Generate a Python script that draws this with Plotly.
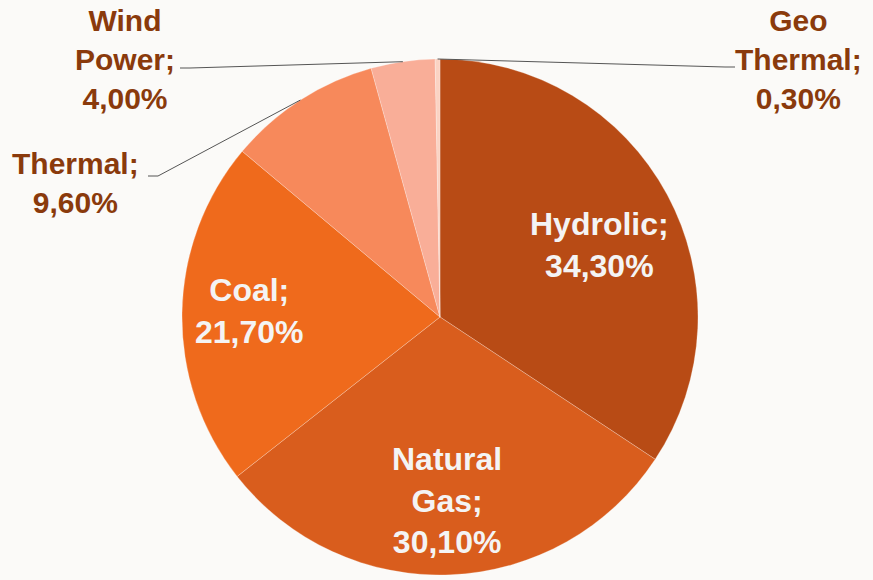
import math
import plotly.graph_objects as go

labels = ["Hydrolic", "Natural Gas", "Coal", "Thermal", "Wind Power", "Geo Thermal"]
values = [34.3, 30.1, 21.7, 9.6, 4.0, 0.3]
colors = ["#B84B15", "#D95D1D", "#EF6A1C", "#F7895B", "#F9AE98", "#FBD3C3"]
label_text = ["Hydrolic;<br>34,30%", "Natural<br>Gas;<br>30,10%", "Coal;<br>21,70%",
              "Thermal;<br>9,60%", "Wind<br>Power;<br>4,00%", "Geo<br>Thermal;<br>0,30%"]

W, H = 873, 580
cx, cy, R = 440, 317, 258
FONT = "Liberation Sans, Arial"

fig = go.Figure(go.Pie(
    labels=labels, values=values, sort=False, direction="clockwise", rotation=0,
    textinfo="none",
    marker=dict(colors=colors, line=dict(color="rgba(255,255,255,0.35)", width=0.7)),
    showlegend=False, hoverinfo="label+percent",
    domain=dict(x=[(cx - R) / W, (cx + R) / W], y=[(H - cy - R) / H, (H - cy + R) / H]),
))

# inside labels: (radial fraction, angle shift in degrees) of the label centre
inside_pos = {0: (0.68, 4), 1: (0.71, 0), 2: (0.74, 1)}
# outside labels: (text centre px, leader start px)
outside_pos = {3: (75, 183, 148, 176), 4: (125, 59, 180, 68), 5: (798, 59, 735, 67)}

total = sum(values)
cum = 0
shapes, annotations = [], []
for i, v in enumerate(values):
    mid = (cum + v / 2) / total * 2 * math.pi
    cum += v
    if i in inside_pos:
        frac, shift = inside_pos[i]
        a = mid + math.radians(shift)
        r = frac * R
        px = cx + r * math.sin(a)
        py = cy - r * math.cos(a)
        annotations.append(dict(x=px / W, y=1 - py / H, xref="paper", yref="paper",
                                xanchor="center", yanchor="middle",
                                text=f"<b>{label_text[i]}</b>", showarrow=False,
                                font=dict(family=FONT, size=32, color="#F4F4F4"), align="center"))
    else:
        ex = cx + R * math.sin(mid)
        ey = cy - R * math.cos(mid)
        tx, ty, lx, ly = outside_pos[i]
        kx = lx + (10 if lx < cx else -10)
        shapes.append(dict(type="path", xref="paper", yref="paper",
                           path=f"M {lx/W} {1-ly/H} L {kx/W} {1-ly/H} L {ex/W} {1-ey/H}",
                           line=dict(color="#555555", width=1)))
        annotations.append(dict(x=tx / W, y=1 - ty / H, xref="paper", yref="paper",
                                xanchor="center", yanchor="middle",
                                text=f"<b>{label_text[i]}</b>", showarrow=False,
                                font=dict(family=FONT, size=30, color="#8A3A0C"), align="center"))

fig.update_layout(width=W, height=H, margin=dict(l=0, r=0, t=0, b=0),
                  paper_bgcolor="#FBFAF8", plot_bgcolor="#FBFAF8",
                  shapes=shapes, annotations=annotations)
fig.write_html("out.html", config={"displayModeBar": False},
               post_script="document.body.style.margin='0';document.body.style.overflow='hidden';")
